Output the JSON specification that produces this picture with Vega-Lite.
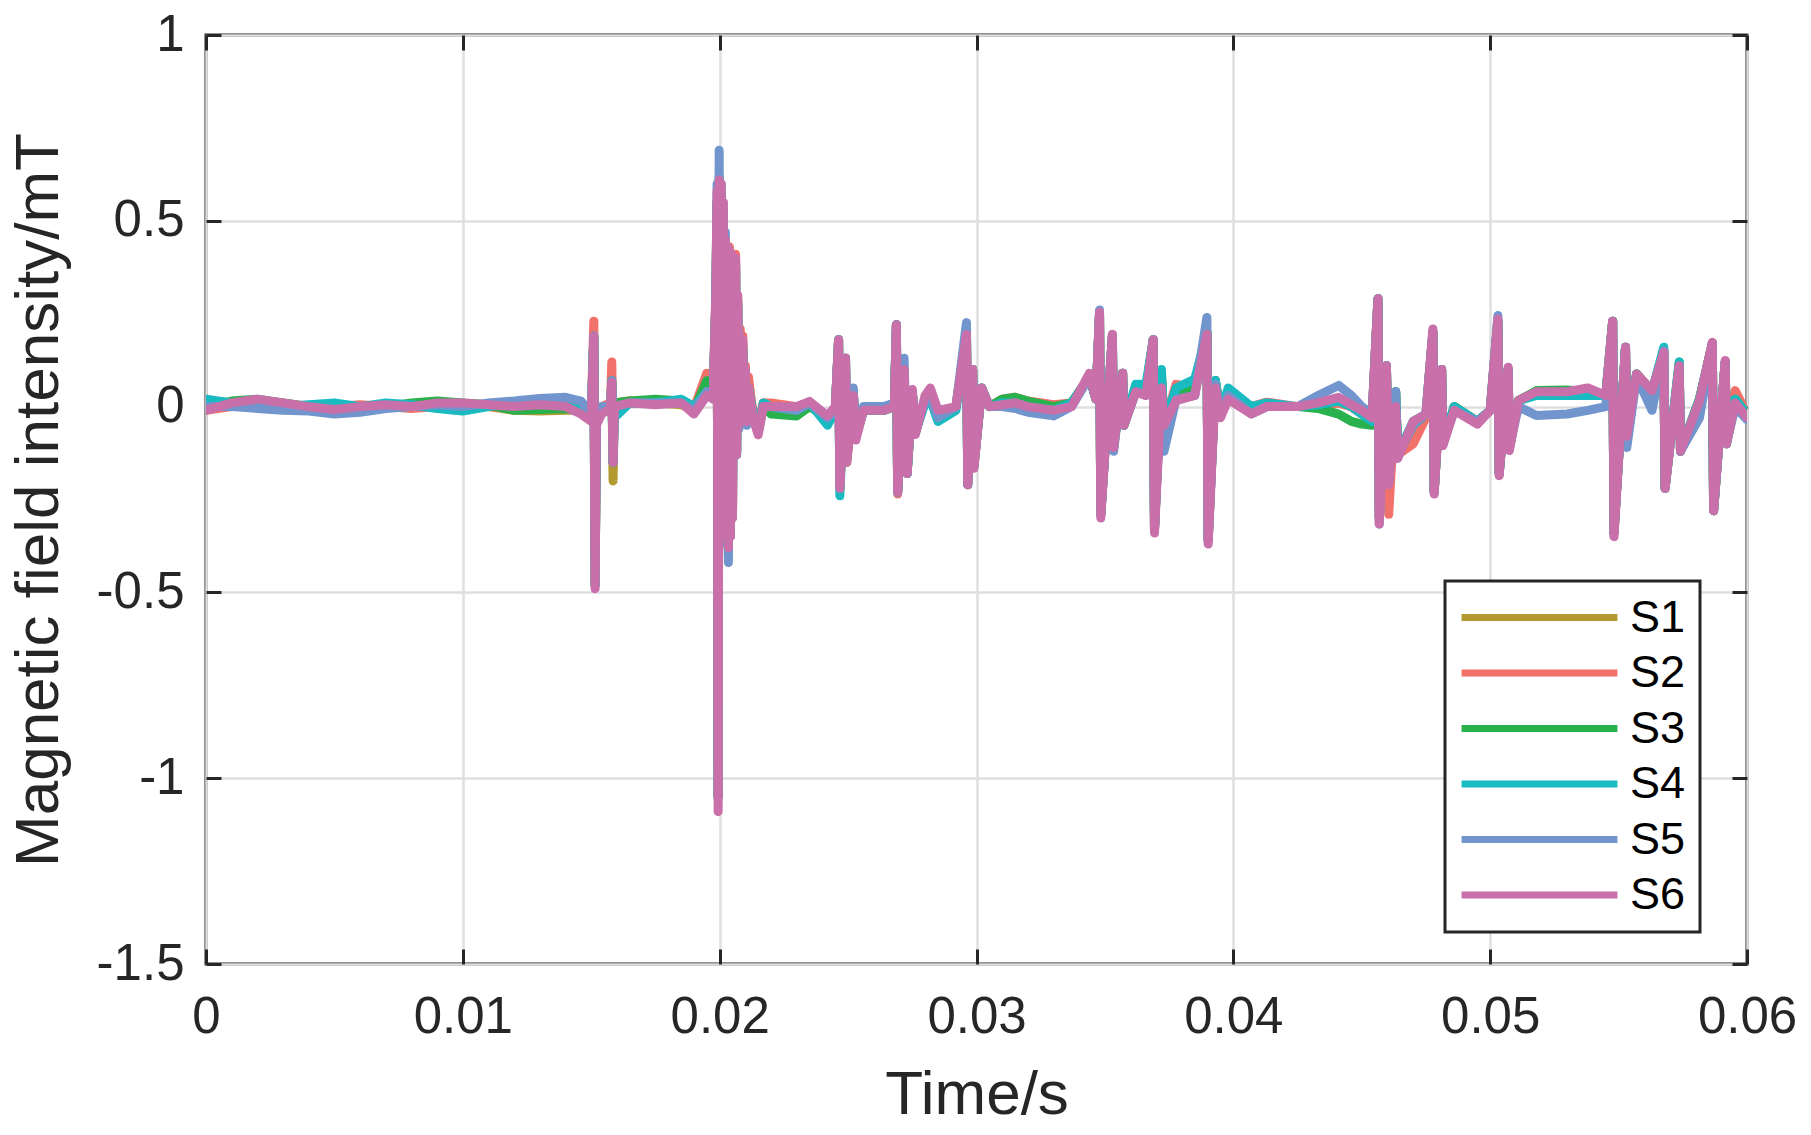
{
  "$schema": "https://vega.github.io/schema/vega-lite/v6.json",
  "width": 1541,
  "height": 929,
  "autosize": "none",
  "padding": {"left": 206, "top": 35, "right": 64, "bottom": 171},
  "background": "white",
  "config": {
    "font": "Liberation Sans",
    "view": {"stroke": "#262626", "strokeWidth": 3},
    "legend": {"strokeWidth": 3},
    "axis": {
      "domain": false,
      "gridColor": "#dfdfdf",
      "gridWidth": 2.5,
      "tickColor": "#262626",
      "tickWidth": 3,
      "tickSize": -15,
      "labelFlush": false,
      "labelFont": "Liberation Sans",
      "labelFontSize": 51,
      "labelColor": "#262626",
      "titleFont": "Liberation Sans",
      "titleFontSize": 62,
      "titleFontWeight": "normal",
      "titleColor": "#262626"
    }
  },
  "datasets": {
    "sig": [
      {"t": 0.0, "S1": -0.005, "S2": -0.01, "S3": 0.0, "S4": 0.02, "S5": 0.0, "S6": -0.01},
      {"t": 0.001, "S1": 0.01, "S2": 0.0, "S3": 0.015, "S4": 0.01, "S5": 0.0, "S6": 0.01},
      {"t": 0.002, "S1": 0.015, "S2": 0.01, "S3": 0.02, "S4": 0.0, "S5": -0.005, "S6": 0.02},
      {"t": 0.003, "S1": 0.01, "S2": 0.005, "S3": 0.01, "S4": 0.0, "S5": -0.01, "S6": 0.01},
      {"t": 0.004, "S1": 0.0, "S2": 0.0, "S3": 0.0, "S4": 0.005, "S5": -0.012, "S6": 0.0},
      {"t": 0.005, "S1": -0.01, "S2": 0.0, "S3": -0.005, "S4": 0.01, "S5": -0.02, "S6": -0.008},
      {"t": 0.006, "S1": 0.0, "S2": 0.005, "S3": 0.0, "S4": 0.0, "S5": -0.015, "S6": 0.0},
      {"t": 0.007, "S1": 0.005, "S2": 0.0, "S3": 0.0, "S4": 0.01, "S5": -0.005, "S6": 0.005},
      {"t": 0.008, "S1": 0.005, "S2": -0.005, "S3": 0.01, "S4": 0.005, "S5": 0.0, "S6": 0.0},
      {"t": 0.009, "S1": 0.01, "S2": 0.0, "S3": 0.015, "S4": -0.005, "S5": 0.005, "S6": 0.01},
      {"t": 0.010, "S1": 0.005, "S2": 0.0, "S3": 0.01, "S4": -0.012, "S5": 0.0, "S6": 0.01},
      {"t": 0.011, "S1": 0.0, "S2": 0.0, "S3": 0.005, "S4": 0.0, "S5": 0.01, "S6": 0.005},
      {"t": 0.012, "S1": -0.01, "S2": -0.005, "S3": -0.01, "S4": 0.01, "S5": 0.015, "S6": 0.0},
      {"t": 0.013, "S1": -0.012, "S2": 0.0, "S3": -0.008, "S4": 0.012, "S5": 0.022, "S6": 0.005},
      {"t": 0.014, "S1": -0.01, "S2": 0.005, "S3": -0.005, "S4": 0.012, "S5": 0.025, "S6": 0.0},
      {"t": 0.0146, "S1": -0.01, "S2": 0.0, "S3": -0.01, "S4": 0.0, "S5": 0.015, "S6": -0.02},
      {"t": 0.0150, "S1": -0.02, "S2": -0.02, "S3": -0.02, "S4": -0.03, "S5": -0.02, "S6": -0.04},
      {"t": 0.01510, "S1": 0.19, "S2": 0.23, "S3": 0.19, "S4": 0.19, "S5": 0.19, "S6": 0.19},
      {"t": 0.01515, "S1": -0.48, "S2": -0.47, "S3": -0.48, "S4": -0.48, "S5": -0.48, "S6": -0.49},
      {"t": 0.01520, "S1": -0.04, "S2": -0.04, "S3": -0.04, "S4": -0.04, "S5": -0.03, "S6": -0.05},
      {"t": 0.0154, "S1": -0.01, "S2": 0.0, "S3": -0.01, "S4": -0.01, "S5": 0.0, "S6": -0.02},
      {"t": 0.01575, "S1": 0.0, "S2": 0.01, "S3": 0.0, "S4": -0.01, "S5": 0.0, "S6": -0.005},
      {"t": 0.01580, "S1": 0.07, "S2": 0.12, "S3": 0.07, "S4": 0.06, "S5": 0.07, "S6": 0.065},
      {"t": 0.01585, "S1": -0.2, "S2": -0.15, "S3": -0.15, "S4": -0.15, "S5": -0.15, "S6": -0.15},
      {"t": 0.01590, "S1": 0.01, "S2": 0.01, "S3": 0.01, "S4": -0.03, "S5": 0.0, "S6": 0.0},
      {"t": 0.0165, "S1": 0.015, "S2": 0.015, "S3": 0.015, "S4": 0.01, "S5": 0.01, "S6": 0.01},
      {"t": 0.0175, "S1": 0.01, "S2": 0.01, "S3": 0.02, "S4": 0.01, "S5": 0.01, "S6": 0.005},
      {"t": 0.0185, "S1": 0.005, "S2": 0.01, "S3": 0.015, "S4": 0.02, "S5": 0.01, "S6": 0.01},
      {"t": 0.0190, "S1": -0.01, "S2": -0.005, "S3": -0.01, "S4": 0.0, "S5": -0.01, "S6": -0.02},
      {"t": 0.0195, "S1": 0.05, "S2": 0.09, "S3": 0.07, "S4": 0.04, "S5": 0.04, "S6": 0.03},
      {"t": 0.01975, "S1": 0.03, "S2": 0.05, "S3": 0.04, "S4": 0.02, "S5": 0.03, "S6": 0.02},
      {"t": 0.01985, "S1": 0.28, "S2": 0.3, "S3": 0.28, "S4": 0.28, "S5": 0.3, "S6": 0.3},
      {"t": 0.01990, "S1": 0.55, "S2": 0.55, "S3": 0.55, "S4": 0.55, "S5": 0.6, "S6": 0.58},
      {"t": 0.01994, "S1": -1.05, "S2": -1.05, "S3": -1.05, "S4": -1.05, "S5": -1.05, "S6": -1.09},
      {"t": 0.01998, "S1": 0.6, "S2": 0.6, "S3": 0.6, "S4": 0.62, "S5": 0.69, "S6": 0.61},
      {"t": 0.02002, "S1": -0.3, "S2": -0.3, "S3": -0.3, "S4": -0.3, "S5": -0.32, "S6": -0.3},
      {"t": 0.02006, "S1": 0.58, "S2": 0.58, "S3": 0.58, "S4": 0.58, "S5": 0.6, "S6": 0.6},
      {"t": 0.02010, "S1": -0.35, "S2": -0.35, "S3": -0.35, "S4": -0.35, "S5": -0.36, "S6": -0.35},
      {"t": 0.02014, "S1": 0.53, "S2": 0.53, "S3": 0.53, "S4": 0.53, "S5": 0.55, "S6": 0.55},
      {"t": 0.02018, "S1": -0.3, "S2": -0.3, "S3": -0.3, "S4": -0.3, "S5": -0.32, "S6": -0.3},
      {"t": 0.02022, "S1": 0.45, "S2": 0.45, "S3": 0.45, "S4": 0.45, "S5": 0.47, "S6": 0.45},
      {"t": 0.02026, "S1": -0.35, "S2": -0.35, "S3": -0.35, "S4": -0.35, "S5": -0.37, "S6": -0.35},
      {"t": 0.02030, "S1": 0.43, "S2": 0.43, "S3": 0.42, "S4": 0.42, "S5": 0.43, "S6": 0.43},
      {"t": 0.02034, "S1": -0.39, "S2": -0.38, "S3": -0.38, "S4": -0.4, "S5": -0.42, "S6": -0.38},
      {"t": 0.02038, "S1": 0.42, "S2": 0.43, "S3": 0.4, "S4": 0.4, "S5": 0.41, "S6": 0.42},
      {"t": 0.02042, "S1": -0.33, "S2": -0.33, "S3": -0.33, "S4": -0.33, "S5": -0.35, "S6": -0.35},
      {"t": 0.02046, "S1": 0.4, "S2": 0.41, "S3": 0.4, "S4": 0.4, "S5": 0.4, "S6": 0.41},
      {"t": 0.02050, "S1": -0.28, "S2": -0.28, "S3": -0.28, "S4": -0.28, "S5": -0.3, "S6": -0.3},
      {"t": 0.02054, "S1": 0.37, "S2": 0.38, "S3": 0.36, "S4": 0.36, "S5": 0.37, "S6": 0.38},
      {"t": 0.02058, "S1": -0.13, "S2": -0.13, "S3": -0.13, "S4": -0.13, "S5": -0.13, "S6": -0.13},
      {"t": 0.02062, "S1": 0.39, "S2": 0.41, "S3": 0.38, "S4": 0.38, "S5": 0.39, "S6": 0.4},
      {"t": 0.02066, "S1": -0.12, "S2": -0.12, "S3": -0.13, "S4": -0.13, "S5": -0.12, "S6": -0.13},
      {"t": 0.02070, "S1": 0.29, "S2": 0.3, "S3": 0.28, "S4": 0.28, "S5": 0.28, "S6": 0.3},
      {"t": 0.02075, "S1": -0.05, "S2": -0.05, "S3": -0.05, "S4": -0.05, "S5": -0.06, "S6": -0.05},
      {"t": 0.02080, "S1": 0.18, "S2": 0.21, "S3": 0.17, "S4": 0.17, "S5": 0.17, "S6": 0.19},
      {"t": 0.02085, "S1": -0.02, "S2": -0.02, "S3": -0.02, "S4": -0.02, "S5": -0.03, "S6": -0.02},
      {"t": 0.02090, "S1": 0.17, "S2": 0.19, "S3": 0.16, "S4": 0.16, "S5": 0.16, "S6": 0.18},
      {"t": 0.02095, "S1": -0.03, "S2": -0.03, "S3": -0.03, "S4": -0.03, "S5": -0.04, "S6": -0.03},
      {"t": 0.02100, "S1": 0.1, "S2": 0.11, "S3": 0.09, "S4": 0.09, "S5": 0.09, "S6": 0.1},
      {"t": 0.02105, "S1": -0.04, "S2": -0.03, "S3": -0.04, "S4": -0.04, "S5": -0.05, "S6": -0.04},
      {"t": 0.02112, "S1": 0.06, "S2": 0.08, "S3": 0.05, "S4": 0.05, "S5": 0.05, "S6": 0.05},
      {"t": 0.02130, "S1": -0.02, "S2": -0.02, "S3": -0.02, "S4": -0.02, "S5": -0.03, "S6": -0.03},
      {"t": 0.02150, "S1": -0.06, "S2": -0.05, "S3": -0.06, "S4": -0.07, "S5": -0.07, "S6": -0.076},
      {"t": 0.02170, "S1": 0.01, "S2": 0.01, "S3": 0.0, "S4": 0.01, "S5": 0.0, "S6": 0.0},
      {"t": 0.0220, "S1": 0.0, "S2": 0.01, "S3": -0.02, "S4": 0.0, "S5": 0.0, "S6": 0.0},
      {"t": 0.0230, "S1": 0.0, "S2": 0.0, "S3": -0.025, "S4": -0.01, "S5": -0.01, "S6": 0.0},
      {"t": 0.0235, "S1": 0.01, "S2": 0.01, "S3": 0.0, "S4": 0.01, "S5": 0.01, "S6": 0.014},
      {"t": 0.0242, "S1": -0.03, "S2": -0.03, "S3": -0.03, "S4": -0.05, "S5": -0.03, "S6": -0.025},
      {"t": 0.0245, "S1": -0.01, "S2": -0.01, "S3": -0.01, "S4": -0.01, "S5": -0.01, "S6": 0.0},
      {"t": 0.02463, "S1": 0.18, "S2": 0.18, "S3": 0.18, "S4": 0.18, "S5": 0.18, "S6": 0.18},
      {"t": 0.02468, "S1": -0.22, "S2": -0.22, "S3": -0.22, "S4": -0.24, "S5": -0.22, "S6": -0.22},
      {"t": 0.02490, "S1": 0.13, "S2": 0.13, "S3": 0.13, "S4": 0.13, "S5": 0.13, "S6": 0.13},
      {"t": 0.02495, "S1": -0.15, "S2": -0.14, "S3": -0.14, "S4": -0.13, "S5": -0.13, "S6": -0.15},
      {"t": 0.02520, "S1": 0.04, "S2": 0.04, "S3": 0.04, "S4": 0.04, "S5": 0.05, "S6": 0.03},
      {"t": 0.02530, "S1": -0.08, "S2": -0.08, "S3": -0.08, "S4": -0.08, "S5": -0.08, "S6": -0.09},
      {"t": 0.0256, "S1": -0.01, "S2": -0.01, "S3": -0.01, "S4": -0.01, "S5": 0.0, "S6": -0.01},
      {"t": 0.0264, "S1": -0.01, "S2": -0.01, "S3": -0.01, "S4": -0.01, "S5": 0.0, "S6": -0.01},
      {"t": 0.0268, "S1": 0.0, "S2": 0.0, "S3": 0.0, "S4": 0.0, "S5": 0.01, "S6": 0.0},
      {"t": 0.02688, "S1": 0.22, "S2": 0.22, "S3": 0.22, "S4": 0.22, "S5": 0.22, "S6": 0.22},
      {"t": 0.02693, "S1": -0.23, "S2": -0.235, "S3": -0.23, "S4": -0.23, "S5": -0.23, "S6": -0.23},
      {"t": 0.02718, "S1": 0.1, "S2": 0.1, "S3": 0.1, "S4": 0.1, "S5": 0.13, "S6": 0.1},
      {"t": 0.02730, "S1": -0.18, "S2": -0.18, "S3": -0.18, "S4": -0.18, "S5": -0.18, "S6": -0.18},
      {"t": 0.02750, "S1": 0.04, "S2": 0.04, "S3": 0.04, "S4": 0.04, "S5": 0.04, "S6": 0.046},
      {"t": 0.02762, "S1": -0.07, "S2": -0.07, "S3": -0.07, "S4": -0.07, "S5": -0.07, "S6": -0.075},
      {"t": 0.0280, "S1": 0.02, "S2": 0.02, "S3": 0.02, "S4": 0.01, "S5": 0.02, "S6": 0.03},
      {"t": 0.0282, "S1": 0.03, "S2": 0.03, "S3": 0.03, "S4": 0.02, "S5": 0.03, "S6": 0.05},
      {"t": 0.0285, "S1": -0.03, "S2": -0.03, "S3": -0.03, "S4": -0.04, "S5": -0.03, "S6": -0.01},
      {"t": 0.0292, "S1": 0.0, "S2": 0.0, "S3": 0.0, "S4": -0.01, "S5": 0.0, "S6": 0.0},
      {"t": 0.02961, "S1": 0.19, "S2": 0.19, "S3": 0.19, "S4": 0.19, "S5": 0.226, "S6": 0.194},
      {"t": 0.02966, "S1": -0.21, "S2": -0.21, "S3": -0.21, "S4": -0.21, "S5": -0.21, "S6": -0.21},
      {"t": 0.02985, "S1": 0.1, "S2": 0.1, "S3": 0.1, "S4": 0.1, "S5": 0.1, "S6": 0.1},
      {"t": 0.02990, "S1": -0.16, "S2": -0.16, "S3": -0.16, "S4": -0.16, "S5": -0.16, "S6": -0.166},
      {"t": 0.0302, "S1": 0.05, "S2": 0.05, "S3": 0.05, "S4": 0.05, "S5": 0.05, "S6": 0.05},
      {"t": 0.0305, "S1": 0.0, "S2": 0.0, "S3": 0.0, "S4": 0.0, "S5": 0.0, "S6": 0.0},
      {"t": 0.0310, "S1": 0.01, "S2": 0.02, "S3": 0.02, "S4": 0.01, "S5": 0.0, "S6": 0.005},
      {"t": 0.0315, "S1": 0.02, "S2": 0.025, "S3": 0.025, "S4": 0.01, "S5": -0.005, "S6": 0.01},
      {"t": 0.0320, "S1": 0.01, "S2": 0.015, "S3": 0.015, "S4": 0.0, "S5": -0.015, "S6": 0.0},
      {"t": 0.0330, "S1": 0.0, "S2": 0.005, "S3": 0.0, "S4": -0.01, "S5": -0.025, "S6": -0.01},
      {"t": 0.0337, "S1": 0.01, "S2": 0.01, "S3": 0.01, "S4": 0.01, "S5": 0.0, "S6": 0.0},
      {"t": 0.0344, "S1": 0.08, "S2": 0.08, "S3": 0.08, "S4": 0.08, "S5": 0.08, "S6": 0.09},
      {"t": 0.03465, "S1": 0.02, "S2": 0.02, "S3": 0.02, "S4": 0.02, "S5": 0.02, "S6": 0.02},
      {"t": 0.03479, "S1": 0.25, "S2": 0.25, "S3": 0.25, "S4": 0.25, "S5": 0.26, "S6": 0.254},
      {"t": 0.03484, "S1": -0.29, "S2": -0.29, "S3": -0.29, "S4": -0.29, "S5": -0.29, "S6": -0.3},
      {"t": 0.03529, "S1": 0.19, "S2": 0.19, "S3": 0.19, "S4": 0.19, "S5": 0.19, "S6": 0.195},
      {"t": 0.03534, "S1": -0.11, "S2": -0.11, "S3": -0.11, "S4": -0.11, "S5": -0.12, "S6": -0.11},
      {"t": 0.03569, "S1": 0.09, "S2": 0.09, "S3": 0.09, "S4": 0.09, "S5": 0.09, "S6": 0.09},
      {"t": 0.03574, "S1": -0.05, "S2": -0.05, "S3": -0.05, "S4": -0.05, "S5": -0.05, "S6": -0.05},
      {"t": 0.0362, "S1": 0.05, "S2": 0.05, "S3": 0.04, "S4": 0.06, "S5": 0.04, "S6": 0.04},
      {"t": 0.0366, "S1": 0.04, "S2": 0.05, "S3": 0.04, "S4": 0.06, "S5": 0.03, "S6": 0.03},
      {"t": 0.03688, "S1": 0.18, "S2": 0.18, "S3": 0.18, "S4": 0.18, "S5": 0.18, "S6": 0.18},
      {"t": 0.03693, "S1": -0.33, "S2": -0.33, "S3": -0.33, "S4": -0.33, "S5": -0.33, "S6": -0.34},
      {"t": 0.0372, "S1": 0.09, "S2": 0.08, "S3": 0.08, "S4": 0.1, "S5": 0.05, "S6": 0.05},
      {"t": 0.0373, "S1": -0.05, "S2": -0.05, "S3": -0.05, "S4": -0.05, "S5": -0.12, "S6": -0.05},
      {"t": 0.03777, "S1": 0.04, "S2": 0.06, "S3": 0.04, "S4": 0.05, "S5": 0.02, "S6": 0.016},
      {"t": 0.0385, "S1": 0.04, "S2": 0.05, "S3": 0.05, "S4": 0.074, "S5": 0.03, "S6": 0.03},
      {"t": 0.03897, "S1": 0.2, "S2": 0.2, "S3": 0.2, "S4": 0.2, "S5": 0.24, "S6": 0.195},
      {"t": 0.03902, "S1": -0.36, "S2": -0.36, "S3": -0.36, "S4": -0.36, "S5": -0.36, "S6": -0.37},
      {"t": 0.0393, "S1": 0.07, "S2": 0.07, "S3": 0.07, "S4": 0.07, "S5": 0.06, "S6": 0.05},
      {"t": 0.0395, "S1": -0.02, "S2": -0.02, "S3": -0.02, "S4": -0.02, "S5": -0.02, "S6": -0.03},
      {"t": 0.0398, "S1": 0.03, "S2": 0.03, "S3": 0.03, "S4": 0.05, "S5": 0.03, "S6": 0.02},
      {"t": 0.0407, "S1": -0.01, "S2": 0.0, "S3": -0.01, "S4": 0.0, "S5": -0.02, "S6": -0.02},
      {"t": 0.0413, "S1": 0.0, "S2": 0.012, "S3": 0.0, "S4": 0.01, "S5": 0.0, "S6": 0.0},
      {"t": 0.0425, "S1": 0.0, "S2": 0.0, "S3": 0.0, "S4": 0.0, "S5": 0.0, "S6": 0.0},
      {"t": 0.0433, "S1": 0.0, "S2": 0.0, "S3": -0.005, "S4": 0.005, "S5": 0.03, "S6": 0.01},
      {"t": 0.0441, "S1": 0.01, "S2": 0.01, "S3": -0.02, "S4": 0.015, "S5": 0.057, "S6": 0.025},
      {"t": 0.0446, "S1": 0.0, "S2": 0.0, "S3": -0.04, "S4": 0.0, "S5": 0.03, "S6": 0.005},
      {"t": 0.0450, "S1": -0.02, "S2": -0.02, "S3": -0.047, "S4": -0.02, "S5": 0.0, "S6": -0.01},
      {"t": 0.0454, "S1": -0.03, "S2": -0.03, "S3": -0.05, "S4": -0.04, "S5": -0.02, "S6": -0.03},
      {"t": 0.04563, "S1": 0.29, "S2": 0.29, "S3": 0.29, "S4": 0.29, "S5": 0.29, "S6": 0.29},
      {"t": 0.04568, "S1": -0.3, "S2": -0.3, "S3": -0.3, "S4": -0.27, "S5": -0.316, "S6": -0.316},
      {"t": 0.04596, "S1": 0.11, "S2": 0.11, "S3": 0.11, "S4": 0.11, "S5": 0.11, "S6": 0.11},
      {"t": 0.04605, "S1": -0.2, "S2": -0.29, "S3": -0.2, "S4": -0.2, "S5": -0.2, "S6": -0.21},
      {"t": 0.04632, "S1": 0.04, "S2": 0.04, "S3": 0.04, "S4": 0.04, "S5": 0.04, "S6": 0.0},
      {"t": 0.04640, "S1": -0.13, "S2": -0.13, "S3": -0.13, "S4": -0.13, "S5": -0.13, "S6": -0.14},
      {"t": 0.0470, "S1": -0.05, "S2": -0.1, "S3": -0.05, "S4": -0.04, "S5": -0.05, "S6": -0.04},
      {"t": 0.0475, "S1": -0.02, "S2": -0.03, "S3": -0.02, "S4": -0.02, "S5": -0.02, "S6": -0.02},
      {"t": 0.04777, "S1": 0.2, "S2": 0.2, "S3": 0.2, "S4": 0.2, "S5": 0.2, "S6": 0.209},
      {"t": 0.04782, "S1": -0.23, "S2": -0.23, "S3": -0.23, "S4": -0.23, "S5": -0.23, "S6": -0.235},
      {"t": 0.04811, "S1": 0.1, "S2": 0.1, "S3": 0.1, "S4": 0.1, "S5": 0.1, "S6": 0.1},
      {"t": 0.04816, "S1": -0.1, "S2": -0.1, "S3": -0.1, "S4": -0.1, "S5": -0.1, "S6": -0.105},
      {"t": 0.0486, "S1": 0.0, "S2": 0.0, "S3": 0.0, "S4": 0.0, "S5": -0.01, "S6": -0.01},
      {"t": 0.0495, "S1": -0.04, "S2": -0.04, "S3": -0.04, "S4": -0.04, "S5": -0.04, "S6": -0.047},
      {"t": 0.0500, "S1": -0.01, "S2": -0.01, "S3": -0.01, "S4": -0.01, "S5": -0.01, "S6": -0.01},
      {"t": 0.0503, "S1": 0.23, "S2": 0.23, "S3": 0.23, "S4": 0.23, "S5": 0.245, "S6": 0.236},
      {"t": 0.05035, "S1": -0.18, "S2": -0.18, "S3": -0.18, "S4": -0.18, "S5": -0.18, "S6": -0.186},
      {"t": 0.0507, "S1": 0.1, "S2": 0.1, "S3": 0.1, "S4": 0.1, "S5": 0.1, "S6": 0.106},
      {"t": 0.05075, "S1": -0.11, "S2": -0.11, "S3": -0.11, "S4": -0.11, "S5": -0.11, "S6": -0.118},
      {"t": 0.0511, "S1": 0.016, "S2": 0.016, "S3": 0.016, "S4": 0.016, "S5": 0.0, "S6": 0.016},
      {"t": 0.0518, "S1": 0.04, "S2": 0.04, "S3": 0.043, "S4": 0.03, "S5": -0.024, "S6": 0.04},
      {"t": 0.0530, "S1": 0.04, "S2": 0.04, "S3": 0.045, "S4": 0.03, "S5": -0.02, "S6": 0.04},
      {"t": 0.0538, "S1": 0.04, "S2": 0.04, "S3": 0.04, "S4": 0.03, "S5": -0.01, "S6": 0.05},
      {"t": 0.0545, "S1": 0.03, "S2": 0.03, "S3": 0.03, "S4": 0.03, "S5": 0.0, "S6": 0.03},
      {"t": 0.05477, "S1": 0.23, "S2": 0.23, "S3": 0.23, "S4": 0.23, "S5": 0.23, "S6": 0.23},
      {"t": 0.05482, "S1": -0.34, "S2": -0.34, "S3": -0.34, "S4": -0.34, "S5": -0.34, "S6": -0.35},
      {"t": 0.05527, "S1": 0.16, "S2": 0.16, "S3": 0.16, "S4": 0.16, "S5": 0.16, "S6": 0.16},
      {"t": 0.05532, "S1": -0.08, "S2": -0.08, "S3": -0.08, "S4": -0.08, "S5": -0.11, "S6": -0.08},
      {"t": 0.0557, "S1": 0.088, "S2": 0.088, "S3": 0.088, "S4": 0.088, "S5": 0.08, "S6": 0.088},
      {"t": 0.0563, "S1": 0.04, "S2": 0.04, "S3": 0.04, "S4": 0.04, "S5": -0.01, "S6": 0.043},
      {"t": 0.05676, "S1": 0.15, "S2": 0.15, "S3": 0.15, "S4": 0.16, "S5": 0.15, "S6": 0.146},
      {"t": 0.05681, "S1": -0.22, "S2": -0.22, "S3": -0.22, "S4": -0.22, "S5": -0.22, "S6": -0.22},
      {"t": 0.05736, "S1": 0.11, "S2": 0.11, "S3": 0.12, "S4": 0.12, "S5": 0.11, "S6": 0.11},
      {"t": 0.05741, "S1": -0.12, "S2": -0.12, "S3": -0.12, "S4": -0.12, "S5": -0.12, "S6": -0.12},
      {"t": 0.05815, "S1": 0.02, "S2": 0.02, "S3": 0.02, "S4": 0.02, "S5": -0.03, "S6": 0.016},
      {"t": 0.05865, "S1": 0.17, "S2": 0.17, "S3": 0.17, "S4": 0.17, "S5": 0.17, "S6": 0.173},
      {"t": 0.05870, "S1": -0.28, "S2": -0.28, "S3": -0.28, "S4": -0.28, "S5": -0.28, "S6": -0.28},
      {"t": 0.05915, "S1": 0.12, "S2": 0.12, "S3": 0.12, "S4": 0.12, "S5": 0.12, "S6": 0.124},
      {"t": 0.05920, "S1": -0.1, "S2": -0.1, "S3": -0.1, "S4": -0.1, "S5": -0.1, "S6": -0.1},
      {"t": 0.05954, "S1": 0.04, "S2": 0.043, "S3": 0.02, "S4": 0.02, "S5": 0.0, "S6": 0.01},
      {"t": 0.06, "S1": -0.03, "S2": -0.02, "S3": -0.02, "S4": -0.02, "S5": -0.035, "S6": -0.03}
    ]
  },
  "data": {"name": "sig"},
  "transform": [
    {"fold": ["S1", "S2", "S3", "S4", "S5", "S6"], "as": ["series", "value"]}
  ],
  "layer": [
    {
      "mark": {"type": "line", "strokeWidth": 9, "strokeCap": "round", "strokeJoin": "round", "clip": true},
      "encoding": {
        "x": {
          "field": "t",
          "type": "quantitative",
          "scale": {"domain": [0, 0.06], "nice": false},
          "axis": {
            "orient": "bottom",
            "values": [0, 0.01, 0.02, 0.03, 0.04, 0.05, 0.06],
            "labelExpr": "'' + datum.value",
            "labelPadding": 43,
            "title": "Time/s",
            "titlePadding": 22
          }
        },
        "y": {
          "field": "value",
          "type": "quantitative",
          "scale": {"domain": [-1.5, 1], "nice": false, "zero": false},
          "axis": {
            "orient": "left",
            "values": [-1.5, -1, -0.5, 0, 0.5, 1],
            "labelExpr": "'' + datum.value",
            "labelPadding": 37,
            "title": "Magnetic field intensity/mT",
            "titlePadding": 26
          }
        },
        "color": {
          "field": "series",
          "type": "nominal",
          "scale": {
            "domain": ["S1", "S2", "S3", "S4", "S5", "S6"],
            "range": ["#b29a30", "#f3716b", "#28b14c", "#19bbc1", "#7295cd", "#c96faa"]
          },
          "legend": {
            "orient": "none",
            "legendX": 1239,
            "legendY": 546,
            "title": null,
            "symbolType": "M-2.56,0H17.44",
            "symbolSize": 243,
            "symbolStrokeWidth": 7,
            "labelFont": "Liberation Sans",
            "labelFontSize": 45,
            "labelColor": "black",
            "labelOffset": 126,
            "padding": 14,
            "rowPadding": 9.5,
            "strokeColor": "#262626",
            "fillColor": "white"
          }
        }
      }
    },
    {
      "mark": {"type": "point", "opacity": 0},
      "encoding": {
        "x": {
          "field": "t",
          "type": "quantitative",
          "axis": {"orient": "top", "values": [0, 0.01, 0.02, 0.03, 0.04, 0.05, 0.06], "labels": false, "grid": false, "title": null}
        },
        "y": {
          "field": "value",
          "type": "quantitative",
          "axis": {"orient": "right", "values": [-1.5, -1, -0.5, 0, 0.5, 1], "labels": false, "grid": false, "title": null}
        }
      }
    }
  ],
  "resolve": {"axis": {"x": "independent", "y": "independent"}}
}
